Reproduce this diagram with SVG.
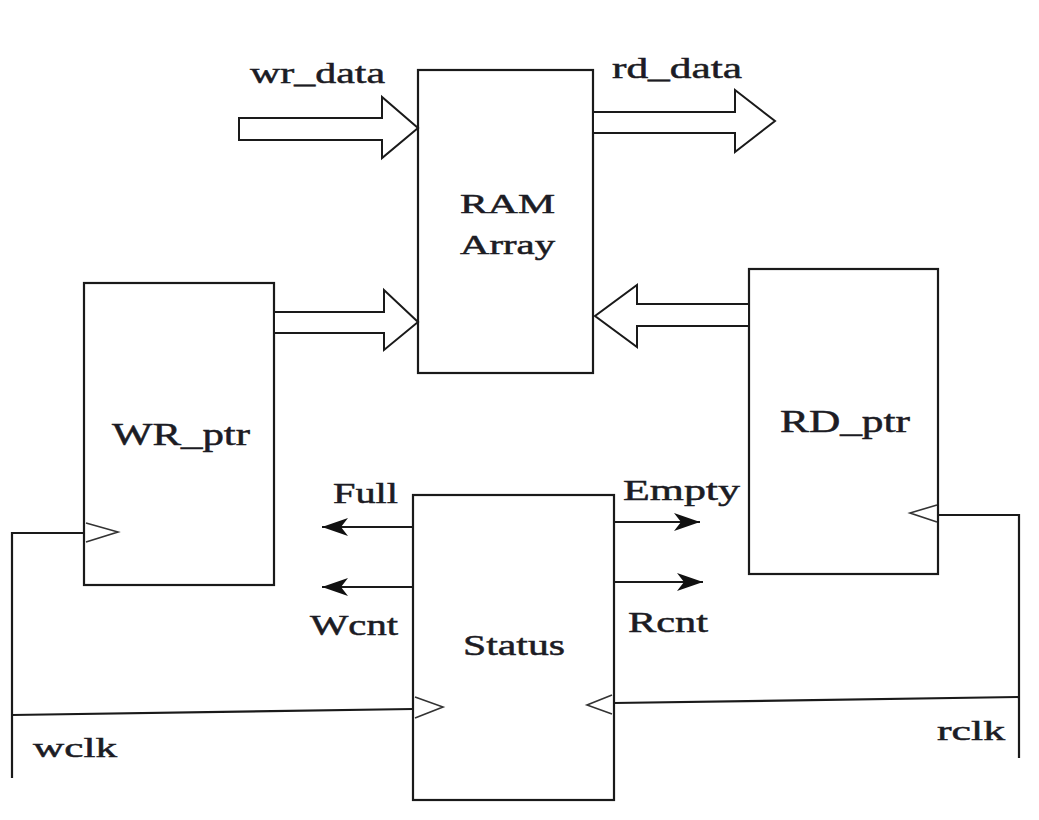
<svg xmlns="http://www.w3.org/2000/svg" width="1039" height="820" viewBox="0 0 1039 820">
<style>
.box{fill:#fff;stroke:#1a1a1a;stroke-width:2.2}
.ln{fill:none;stroke:#1a1a1a;stroke-width:2.2}
.bus{fill:#fff;stroke:#1a1a1a;stroke-width:2}
.ck{fill:none;stroke:#333;stroke-width:1.6}
text{font-family:"Liberation Serif","Times New Roman",serif;fill:#1c1c24;stroke:#1c1c24;stroke-width:0.5}
</style>
<defs>
<marker id="ah" viewBox="0 0 26 20" refX="26" refY="10" markerWidth="26" markerHeight="20" markerUnits="userSpaceOnUse" orient="auto">
<path d="M0,1 L26,10 L0,19 L7,10 Z" fill="#111"/>
</marker>
</defs>
<rect width="1039" height="820" fill="#fff"/>

<g id="ram">
<rect class="box" x="418" y="70" width="175" height="303"/>
<text x="460" y="213" font-size="27" textLength="95" lengthAdjust="spacingAndGlyphs">RAM</text>
<text x="460" y="254" font-size="27" textLength="95" lengthAdjust="spacingAndGlyphs">Array</text>
</g>

<g id="wr_ptr">
<rect class="box" x="84" y="283" width="190" height="302"/>
<text x="112" y="445" font-size="31" textLength="138" lengthAdjust="spacingAndGlyphs">WR_ptr</text>
<polyline class="ck" points="86,523 118,532 86,542"/>
</g>

<g id="rd_ptr">
<rect class="box" x="749" y="269" width="189" height="305"/>
<text x="780" y="432" font-size="31" textLength="130" lengthAdjust="spacingAndGlyphs">RD_ptr</text>
<polyline class="ck" points="937,505 910,513 937,522"/>
</g>

<g id="status">
<rect class="box" x="413" y="495" width="201" height="305"/>
<text x="463" y="655" font-size="30" textLength="102" lengthAdjust="spacingAndGlyphs">Status</text>
<polyline class="ck" points="415,697 443,707 415,718"/>
<polyline class="ck" points="612,695 587,705 612,714"/>
</g>

<g id="connectors">
<path class="bus" d="M239,118 L382,118 L382,97 L418,128 L382,158 L382,140 L239,140 Z"/>
<path class="bus" d="M275,312 L384,312 L384,290 L418,322 L384,350 L384,333 L275,333"/>
<path class="bus" d="M594,112 L735,112 L735,90 L775,121 L735,152 L735,133 L594,133"/>
<path class="bus" d="M748,304 L637,304 L637,285 L595,316 L637,347 L637,326 L748,326"/>
<line class="ln" x1="412" y1="527" x2="322" y2="527" marker-end="url(#ah)"/>
<line class="ln" x1="412" y1="587" x2="322" y2="587" marker-end="url(#ah)"/>
<line class="ln" x1="615" y1="522" x2="700" y2="522" marker-end="url(#ah)"/>
<line class="ln" x1="615" y1="582" x2="703" y2="582" marker-end="url(#ah)"/>
<polyline class="ln" points="84,533 12,533 12,778"/>
<line class="ln" x1="12" y1="715" x2="413" y2="709"/>
<polyline class="ln" points="938,515 1019,515 1019,758"/>
<line class="ln" x1="614" y1="703" x2="1019" y2="697"/>
</g>

<g id="labels">
<text x="250" y="83" font-size="30" textLength="135" lengthAdjust="spacingAndGlyphs">wr_data</text>
<text x="612" y="78" font-size="30" textLength="130" lengthAdjust="spacingAndGlyphs">rd_data</text>
<text x="333" y="503" font-size="30" textLength="65" lengthAdjust="spacingAndGlyphs">Full</text>
<text x="310" y="635" font-size="30" textLength="88" lengthAdjust="spacingAndGlyphs">Wcnt</text>
<text x="623" y="500" font-size="30" textLength="117" lengthAdjust="spacingAndGlyphs">Empty</text>
<text x="628" y="632" font-size="30" textLength="80" lengthAdjust="spacingAndGlyphs">Rcnt</text>
<text x="33" y="757" font-size="28" textLength="84" lengthAdjust="spacingAndGlyphs">wclk</text>
<text x="937" y="740" font-size="28" textLength="68" lengthAdjust="spacingAndGlyphs">rclk</text>
</g>
</svg>
